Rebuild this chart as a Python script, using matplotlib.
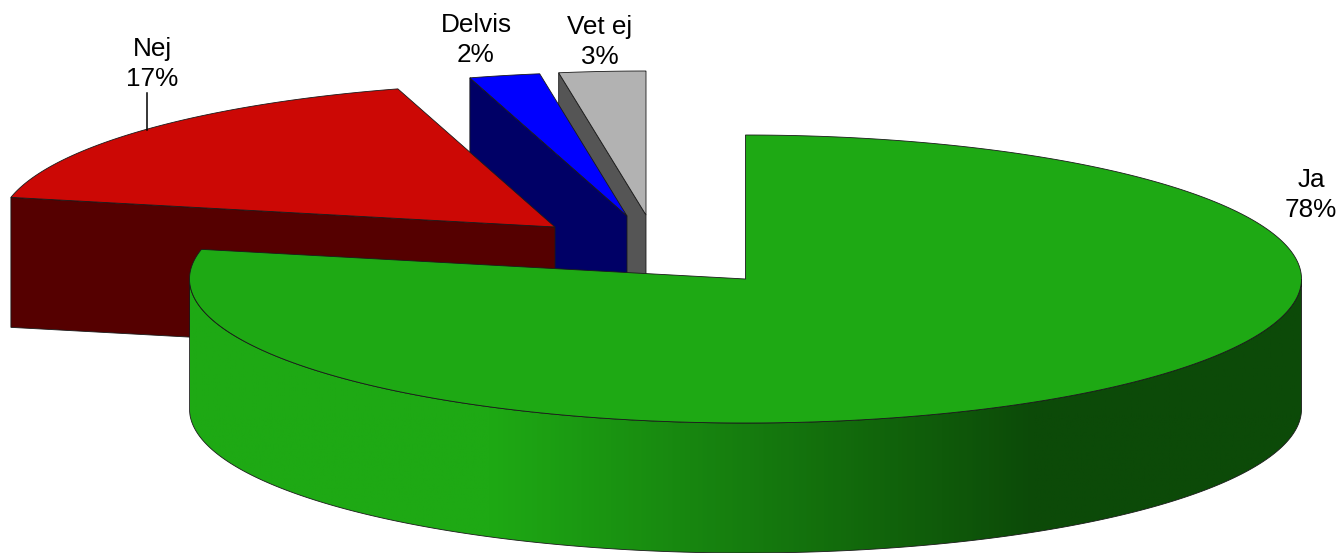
import numpy as np
import matplotlib
matplotlib.use('Agg')
import matplotlib.pyplot as plt
from matplotlib.colors import LinearSegmentedColormap
from matplotlib.patches import Polygon

plt.rcParams['font.family'] = ['Liberation Sans', 'DejaVu Sans']

labels = ['Ja', 'Nej', 'Delvis', 'Vet ej']
values = [78.3, 17.14, 2.05, 2.51]

# layout, in pixels of the picture
RX, RY, DEPTH = 556, 144, 130
centers = [(745.5, 279), (555, 227), (627, 216), (646, 215)]
label_pos = [(1311, 195), (152, 64), (476, 40), (600, 42)]
top_colors = ['#1ea914', '#cc0805', '#0000ff', '#b2b2b2']
side_colors = ['#0c4a08', '#550000', '#000066', '#555555']
EDGE = '#1a1a1a'

fig = plt.figure(figsize=(13.42, 5.53), dpi=100)
ax = fig.add_axes([0, 0, 1, 1])


def arc(cx, cy, a1, a2, dy=0):
    t = np.radians(np.linspace(a1, a2, 300))
    return np.column_stack([cx + RX * np.cos(t), cy + dy - RY * np.sin(t)])


# slice angles, clockwise from the top
ends = 90 - 360 * np.cumsum(values) / sum(values)
starts = np.concatenate([[90], ends[:-1]])

# back slices first, green last because it sits in front
for i in [3, 2, 1]:
    cx, cy = centers[i]
    x1, y1 = arc(cx, cy, starts[i], starts[i])[0]
    ax.add_patch(Polygon([(x1, y1), (cx, cy), (cx, cy + DEPTH), (x1, y1 + DEPTH)],
                         fc=side_colors[i], ec=EDGE, lw=0.6))
    top = np.vstack([[(cx, cy)], arc(cx, cy, starts[i], ends[i])])
    ax.add_patch(Polygon(top, fc=top_colors[i], ec=EDGE, lw=0.6))

# outer wall of the green slice with its shading
cx, cy = centers[0]
upper = arc(cx, cy, -180, 0)
lower = arc(cx, cy, 0, -180, DEPTH)
wall = Polygon(np.vstack([upper, lower]), fc='none', ec=EDGE, lw=0.6, zorder=3)
ax.add_patch(wall)
cmap = LinearSegmentedColormap.from_list('wall', [(0, top_colors[0]), (0.27, top_colors[0]),
                                                  (0.76, side_colors[0]), (1, side_colors[0])])
im = ax.imshow(np.linspace(0, 1, 512)[None, :], cmap=cmap, aspect='auto', zorder=2,
               extent=[cx - RX, cx + RX, cy + RY + DEPTH, cy])
im.set_clip_path(wall)

top = np.vstack([[(cx, cy)], arc(cx, cy, starts[0], ends[0])])
ax.add_patch(Polygon(top, fc=top_colors[0], ec=EDGE, lw=0.6, zorder=4))

for name, v, (x, y) in zip(labels, values, label_pos):
    ax.text(x, y, f'{name}\n{v:.0f}%', ha='center', va='center', fontsize=18.8,
            linespacing=1.33, color='black', zorder=5)

# leader line of Nej
ax.plot([147, 147], [93, 130], color='black', lw=1.1, zorder=5)

ax.set_xlim(0, 1342)
ax.set_ylim(553, 0)
ax.axis('off')
fig.savefig('out.png', dpi=100)
